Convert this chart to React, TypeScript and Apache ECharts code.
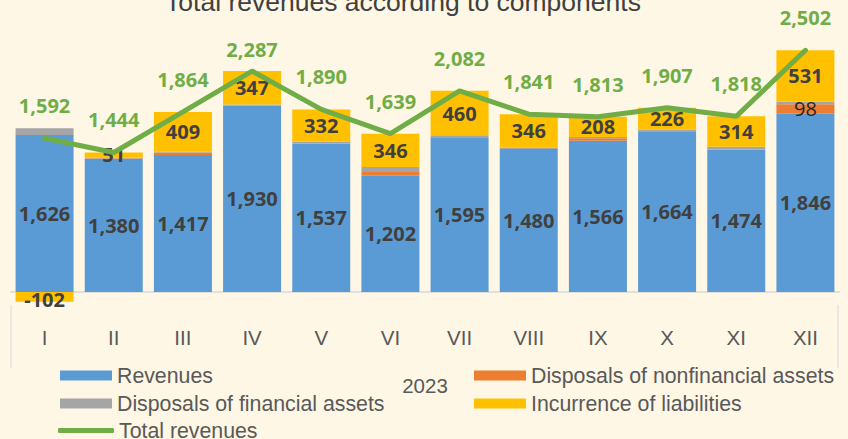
import React, { useEffect, useRef } from "react";
import * as echarts from "echarts";

const categories = ["I", "II", "III", "IV", "V", "VI", "VII", "VIII", "IX", "X", "XI", "XII"];
const revenues = [1626, 1380, 1417, 1930, 1537, 1202, 1595, 1480, 1566, 1664, 1474, 1846];
const nonfinancial = [0, 3, 28, 0, 0, 40, 0, 0, 25, 0, 0, 98];
const financial = [68, 10, 10, 10, 21, 51, 27, 15, 14, 17, 30, 27];
const incurrence = [-102, 51, 409, 347, 332, 346, 460, 346, 208, 226, 314, 531];
const totals = [1592, 1444, 1864, 2287, 1890, 1639, 2082, 1841, 1813, 1907, 1818, 2502];
const yearLabel = "2023";
const titleText = "Total revenues according to components";

const fmt = (v: number) => v.toLocaleString("en-US");
const FONT = "'Liberation Sans', Arial, sans-serif";
const LABEL_FONT = "'Open Sans', 'Liberation Sans', sans-serif";

export default function App() {
  const ref = useRef<HTMLDivElement>(null);
  useEffect(() => {
    if (!ref.current) return;
    const chart = echarts.init(ref.current, undefined, { renderer: "svg" });
    const dataLabel = {
      show: true,
      position: "inside",
      color: "#404040",
      fontFamily: LABEL_FONT,
      fontWeight: "bold",
      fontSize: 20,
      formatter: (p: any) => fmt(p.value),
    };
    const legendText = { color: "#595959", fontSize: 21.3, fontFamily: FONT };
    const mkLegend = (name: string, left: number, top: number, icon?: string) => ({
      data: [name],
      left,
      top,
      itemWidth: 52,
      itemHeight: 10,
      icon: icon,
      textStyle: legendText,
      itemGap: 0,
      padding: 0,
      selectedMode: false,
    });
    chart.setOption({
      animation: false,
      backgroundColor: "#FEF7E5",
      textStyle: { fontFamily: FONT },
      grid: { left: 10, top: 21.5, width: 830, height: 283, containLabel: false },
      legend: [
        mkLegend("Revenues", 60, 365, "rect"),
        mkLegend("Disposals of nonfinancial assets", 474, 365, "rect"),
        mkLegend("Disposals of financial assets", 60, 393, "rect"),
        mkLegend("Incurrence of liabilities", 474, 393, "rect"),
        { ...mkLegend("Total revenues", 58, 420, "roundRect"), itemWidth: 56, itemHeight: 5 },
      ],
      xAxis: {
        type: "category",
        data: categories,
        axisLine: { show: false, onZero: false },
        axisTick: { show: false },
        axisLabel: { color: "#595959", fontSize: 20.5, margin: 22, fontFamily: FONT },
      },
      yAxis: {
        type: "value",
        min: -130,
        max: 2800,
        show: false,
        splitLine: { show: false },
      },
      graphic: [
        {
          type: "text",
          x: 403,
          y: 2,
          style: {
            text: titleText,
            fill: "#404040",
            font: `26.5px ${FONT}`,
            textAlign: "center",
            textVerticalAlign: "middle",
          },
        },
        {
          type: "text",
          x: 425,
          y: 385,
          style: {
            text: yearLabel,
            fill: "#595959",
            font: `20.5px ${FONT}`,
            textAlign: "center",
            textVerticalAlign: "middle",
          },
        },
        { type: "line", shape: { x1: 11, y1: 305, x2: 11, y2: 368 }, style: { stroke: "#D9D9D9", lineWidth: 1 } },
        { type: "line", shape: { x1: 838, y1: 305, x2: 838, y2: 368 }, style: { stroke: "#D9D9D9", lineWidth: 1 } },
      ],
      series: [
        {
          name: "Revenues",
          type: "bar",
          stack: "s",
          barWidth: 58,
          data: revenues,
          itemStyle: { color: "#5B9BD5" },
          label: dataLabel,
          markLine: {
            silent: true,
            z: 1,
            symbol: "none",
            label: { show: false },
            lineStyle: { color: "#D9D9D9", width: 1.5, type: "solid" },
            data: [[{ coord: [-0.5, 0], x: 10 }, { coord: [11.5, 0], x: 840 }]],
          },
        },
        {
          name: "Disposals of nonfinancial assets",
          type: "bar",
          stack: "s",
          data: nonfinancial.map((v, i) => ({
            value: v,
            label: { show: i === 11 },
          })),
          itemStyle: { color: "#ED7D31" },
          label: { ...dataLabel, show: false, fontWeight: "normal", color: "#262626" },
        },
        {
          name: "Disposals of financial assets",
          type: "bar",
          stack: "s",
          data: financial,
          itemStyle: { color: "#A5A5A5" },
          label: { show: false },
        },
        {
          name: "Incurrence of liabilities",
          type: "bar",
          stack: "s",
          data: incurrence.map((v) => ({
            value: v,
            label: v < 0 ? { offset: [0, 3] } : undefined,
          })),
          itemStyle: { color: "#FFC000" },
          label: dataLabel,
        },
        {
          name: "Total revenues",
          type: "line",
          data: totals.map((v, i) => ({
            value: v,
            label: i === 3 ? { distance: 11 } : undefined,
          })),
          symbol: "circle",
          symbolSize: 1,
          showSymbol: true,
          z: 5,
          lineStyle: { color: "#70AD47", width: 5, cap: "round" },
          itemStyle: { color: "#70AD47" },
          label: {
            show: true,
            position: "top",
            distance: 22,
            color: "#70AD47",
            fontFamily: LABEL_FONT,
            fontWeight: "bold",
            fontSize: 20,
            formatter: (p: any) => fmt(p.value),
          },
        },
      ],
    });
    return () => chart.dispose();
  }, []);
  return (
    <div
      ref={ref}
      style={{ position: "fixed", left: 0, top: 0, width: 848, height: 439 }}
    />
  );
}
